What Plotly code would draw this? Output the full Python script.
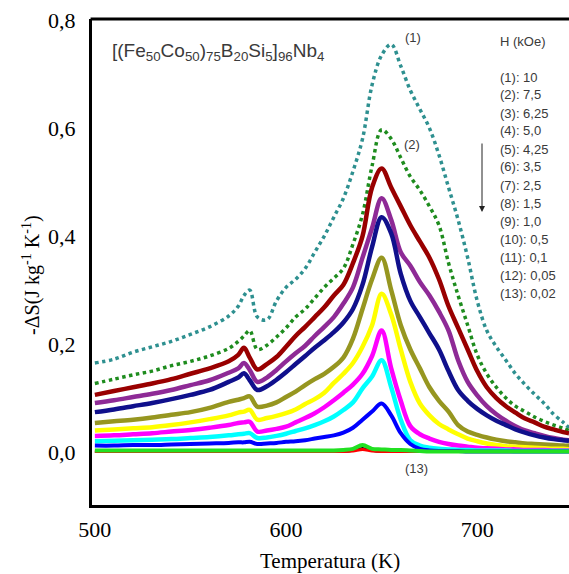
import plotly.graph_objects as go

# Temperature grid (K) shared by every curve
TEMPS = [500, 510, 520, 530, 540, 550, 560, 570, 575, 578, 581, 585, 590, 595,
         600, 605, 610, 615, 620, 625, 630, 635, 640, 645, 650, 655, 660, 665,
         670, 675, 680, 685, 690, 695, 700, 705, 710, 715, 720, 725, 730, 735,
         740, 745, 748]

# -dS (J kg-1 K-1), one list per field
S1 = [0.165, 0.172, 0.185, 0.195, 0.205, 0.218, 0.232, 0.252, 0.27, 0.29, 0.30, 0.25, 0.245, 0.28,
      0.305, 0.32, 0.34, 0.37, 0.40, 0.435, 0.47, 0.52, 0.58, 0.68, 0.735, 0.755, 0.715, 0.67,
      0.635, 0.60, 0.55, 0.49, 0.43, 0.36, 0.28, 0.225, 0.195, 0.17, 0.145, 0.125, 0.107, 0.09,
      0.07, 0.055, 0.045]
S2 = [0.127, 0.135, 0.143, 0.150, 0.160, 0.168, 0.178, 0.192, 0.205, 0.215, 0.225, 0.19, 0.198, 0.213,
      0.23, 0.25, 0.265, 0.285, 0.305, 0.322, 0.34, 0.385, 0.44, 0.53, 0.597, 0.58, 0.545, 0.51,
      0.485, 0.455, 0.42, 0.35, 0.29, 0.235, 0.18, 0.145, 0.12, 0.10, 0.085, 0.075, 0.065, 0.057,
      0.05, 0.044, 0.04]
S3 = [0.106, 0.113, 0.12, 0.127, 0.135, 0.145, 0.155, 0.168, 0.18, 0.193, 0.175, 0.153, 0.163, 0.176,
      0.195, 0.215, 0.232, 0.25, 0.268, 0.29, 0.31, 0.35, 0.40, 0.49, 0.525, 0.49, 0.455, 0.42,
      0.39, 0.36, 0.32, 0.27, 0.23, 0.19, 0.15, 0.12, 0.10, 0.085, 0.073, 0.062, 0.055, 0.047,
      0.042, 0.037, 0.035]
S4 = [0.091, 0.096, 0.102, 0.108, 0.115, 0.124, 0.133, 0.147, 0.155, 0.165, 0.152, 0.13, 0.138, 0.152,
      0.168, 0.183, 0.197, 0.215, 0.232, 0.25, 0.275, 0.305, 0.36, 0.415, 0.47, 0.43, 0.37, 0.345,
      0.315, 0.29, 0.26, 0.225, 0.17, 0.13, 0.105, 0.085, 0.07, 0.058, 0.048, 0.04, 0.035, 0.03,
      0.026, 0.023, 0.022]
S5 = [0.074, 0.079, 0.085, 0.091, 0.098, 0.106, 0.115, 0.13, 0.138, 0.146, 0.133, 0.115, 0.122, 0.134,
      0.148, 0.163, 0.178, 0.193, 0.207, 0.222, 0.24, 0.265, 0.31, 0.38, 0.435, 0.405, 0.33, 0.28,
      0.25, 0.22, 0.19, 0.15, 0.115, 0.095, 0.08, 0.068, 0.058, 0.05, 0.042, 0.036, 0.031, 0.027,
      0.024, 0.022, 0.021]
S6 = [0.054, 0.057, 0.060, 0.064, 0.069, 0.074, 0.082, 0.093, 0.097, 0.100, 0.103, 0.084, 0.086, 0.092,
      0.102, 0.112, 0.124, 0.135, 0.145, 0.158, 0.175, 0.21, 0.265, 0.32, 0.36, 0.30, 0.235, 0.19,
      0.155, 0.12, 0.095, 0.075, 0.05, 0.038, 0.032, 0.027, 0.023, 0.02, 0.018, 0.016, 0.015, 0.014,
      0.013, 0.012, 0.012]
S7 = [0.04, 0.042, 0.044, 0.046, 0.05, 0.055, 0.061, 0.068, 0.073, 0.075, 0.078, 0.06, 0.063, 0.067,
      0.072, 0.079, 0.089, 0.098, 0.11, 0.128, 0.145, 0.165, 0.195, 0.235, 0.293, 0.255, 0.19, 0.13,
      0.09, 0.068, 0.052, 0.042, 0.033, 0.025, 0.02, 0.016, 0.013, 0.011, 0.01, 0.009, 0.008, 0.007,
      0.006, 0.006, 0.005]
S8 = [0.03, 0.031, 0.033, 0.035, 0.038, 0.041, 0.045, 0.05, 0.054, 0.055, 0.056, 0.038, 0.04, 0.043,
      0.047, 0.055, 0.063, 0.072, 0.083, 0.096, 0.11, 0.125, 0.145, 0.178, 0.225, 0.155, 0.095, 0.048,
      0.033, 0.025, 0.019, 0.015, 0.012, 0.01, 0.008, 0.007, 0.006, 0.005, 0.005, 0.004, 0.004, 0.004,
      0.003, 0.003, 0.003]
S9 = [0.02, 0.021, 0.022, 0.023, 0.024, 0.026, 0.028, 0.031, 0.033, 0.034, 0.035, 0.026, 0.027, 0.03,
      0.034, 0.039, 0.044, 0.05, 0.057, 0.066, 0.078, 0.092, 0.118, 0.14, 0.17, 0.12, 0.06, 0.022,
      0.012, 0.008, 0.006, 0.005, 0.004, 0.004, 0.003, 0.003, 0.003, 0.003, 0.002, 0.002, 0.002, 0.002,
      0.002, 0.002, 0.002]
S10 = [0.012, 0.012, 0.013, 0.013, 0.014, 0.015, 0.016, 0.017, 0.018, 0.018, 0.019, 0.015, 0.016, 0.017,
       0.019, 0.02, 0.022, 0.025, 0.028, 0.031, 0.036, 0.045, 0.06, 0.075, 0.09, 0.068, 0.035, 0.015,
       0.006, 0.003, 0.002, 0.002, 0.002, 0.001, 0.001, 0.001, 0.001, 0.001, 0.001, 0.001, 0.001, 0.001,
       0.001, 0.001, 0.001]
S11 = [0.003, 0.003, 0.003, 0.003, 0.003, 0.003, 0.003, 0.003, 0.003, 0.003, 0.003, 0.003, 0.003, 0.003,
       0.003, 0.003, 0.003, 0.003, 0.003, 0.003, 0.004, 0.006, 0.013, 0.006, 0.005, 0.004, 0.004, 0.003,
       0.002, 0.001, 0.001, 0.001, 0.001, 0.001, 0.001, 0.001, 0.001, 0.001, 0.001, 0.001, 0.001, 0.001,
       0.001, 0.001, 0.001]
S12 = [0.001, 0.001, 0.001, 0.001, 0.001, 0.001, 0.001, 0.001, 0.001, 0.001, 0.001, 0.001, 0.001, 0.001,
       0.001, 0.001, 0.001, 0.001, 0.001, 0.001, 0.001, 0.002, 0.005, 0.002, 0.001, 0.001, 0.001, 0.001,
       0.001, 0.001, 0.001, 0.001, 0.001, 0.001, 0.001, 0.001, 0.001, 0.001, 0.001, 0.001, 0.001, 0.001,
       0.001, 0.001, 0.001]
S13 = [0.0, 0.0, 0.0, 0.0, 0.0, 0.0, 0.0, 0.0, 0.0, 0.0, 0.0, 0.0, 0.0, 0.0,
       0.0, 0.0, 0.0, 0.0, 0.0, 0.0, 0.0, 0.002, 0.008, 0.002, 0.0, 0.0, 0.0, 0.0,
       0.0, 0.0, 0.0, 0.0, 0.0, 0.0, 0.0, 0.0, 0.0, 0.0, 0.0, 0.0, 0.0, 0.0,
       0.0, 0.0, 0.0]

SERIES = [S1, S2, S3, S4, S5, S6, S7, S8, S9, S10, S11, S12, S13]
COLORS = ["#2E9090", "#1E8C1E", "#990000", "#8E2A96", "#10108C", "#969620", "#FFFF00",
          "#FF00FF", "#00FFFF", "#0000FF", "#22E022", "#FF0000", "#000000"]
WIDTHS = [3.5, 3.5, 4.5, 4.5, 4.5, 4.5, 4.5, 4.5, 4.5, 4, 4, 3, 1.5]
# order in which the curves are stacked (later = on top)
DRAW_ORDER = [0, 1, 2, 3, 4, 5, 6, 7, 8, 9, 12, 11, 10]

FIELD_LABELS = ["(1): 10", "(2): 7,5", "(3): 6,25", "(4): 5,0", "(5): 4,25", "(6): 3,5",
                "(7): 2,5", "(8): 1,5", "(9): 1,0", "(10): 0,5", "(11): 0,1", "(12): 0,05",
                "(13): 0,02"]

X_TICKS = [500, 600, 700]
Y_TICKS = [0.0, 0.2, 0.4, 0.6, 0.8]
Y_TICK_TEXT = ["0,0", "0,2", "0,4", "0,6", "0,8"]

W, H = 569, 574
L, R, T, B = 92, 0, 19, 69


def px(x, y):
    """pixel position -> paper coordinates of the plot area"""
    return (x - L) / (W - L - R), (H - B - y) / (H - T - B)


def label(x, y, text, size, font, xanchor="center", **kw):
    xx, yy = px(x, y)
    return dict(x=xx, y=yy, xref="paper", yref="paper", xanchor=xanchor, yanchor="middle",
                showarrow=False, text=text, font=dict(size=size, **font), **kw)


fig = go.Figure()
for i in DRAW_ORDER:
    dotted = i < 2
    fig.add_trace(go.Scatter(
        x=TEMPS, y=SERIES[i], mode="lines",
        line=dict(color=COLORS[i], width=WIDTHS[i], shape="spline",
                  dash="dot" if dotted else "solid"),
        showlegend=False, hoverinfo="skip",
    ))

sans = dict(family="Liberation Sans, Arial", color="#3A3A3A")
serif = dict(family="Liberation Serif, Times New Roman", color="black")

ann = [label(110, 52, "[(Fe<sub>50</sub>Co<sub>50</sub>)<sub>75</sub>B<sub>20</sub>Si<sub>5</sub>]"
                      "<sub>96</sub>Nb<sub>4</sub>", 19, sans, xanchor="left")]
ann += [label(413, 38, "(1)", 13, sans), label(412, 144, "(2)", 13, sans),
        label(416, 468, "(13)", 13, sans)]
ann.append(label(498, 42, "H (kOe)", 13, sans, xanchor="left"))
for k, lab in enumerate(FIELD_LABELS):
    ann.append(label(498, 77 + k * 18, lab, 13, sans, xanchor="left"))

# downward arrow beside the field list
xa, ya = px(482, 212)
ann.append(dict(x=xa, y=ya, xref="paper", yref="paper", ax=0, ay=-70, text="",
                showarrow=True, arrowhead=2, arrowsize=1.2, arrowwidth=1, arrowcolor="#222"))

ann.append(label(330, 561, "Temperatura (K)", 21, serif))
ann.append(label(31, 275, "-ΔS(J kg<sup>-1</sup> K<sup>-1</sup>)", 20, serif, textangle=-90))

fig.update_layout(
    width=W, height=H,
    margin=dict(l=L, r=R, t=T, b=B),
    paper_bgcolor="white", plot_bgcolor="white",
    annotations=ann,
    # top edge of the frame (the right edge is cut off in the original)
    shapes=[dict(type="line", xref="paper", yref="paper", x0=-0.003, x1=1, y0=1, y1=1,
                 line=dict(color="black", width=3))],
)
fig.update_xaxes(range=[498.5, 748], tickvals=X_TICKS, showgrid=False, zeroline=False,
                 showline=True, linecolor="black", linewidth=3,
                 ticks="outside", ticklen=3, tickcolor="rgba(0,0,0,0)",
                 tickfont=dict(size=22, **serif))
fig.update_yaxes(range=[-0.098, 0.802], tickvals=Y_TICKS, ticktext=Y_TICK_TEXT,
                 showgrid=False, zeroline=False,
                 showline=True, linecolor="black", linewidth=3,
                 ticks="outside", ticklen=9, tickcolor="rgba(0,0,0,0)",
                 tickfont=dict(size=22, **serif))

fig.write_html("out.html", config={"displayModeBar": False},
               post_script="document.body.style.margin='0px';")
